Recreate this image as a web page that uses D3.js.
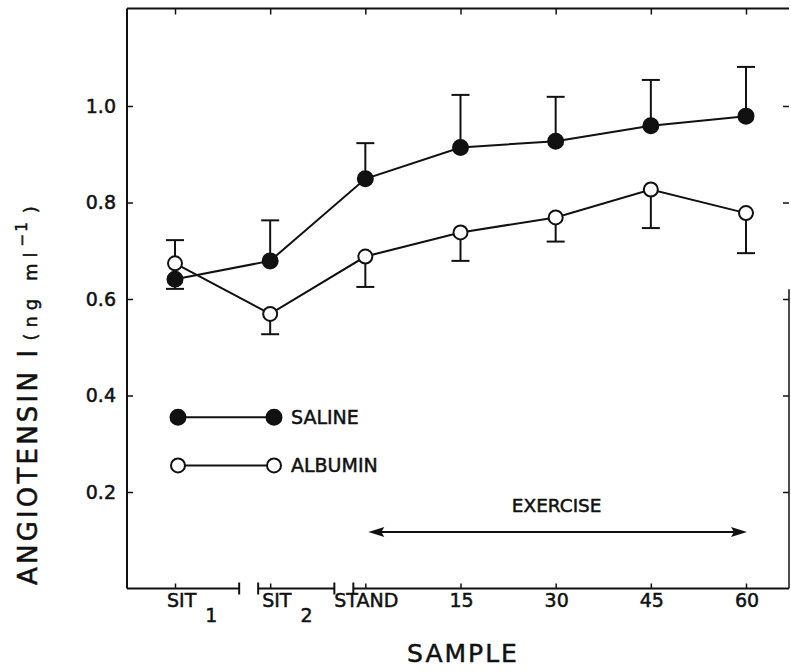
<!DOCTYPE html>
<html>
<head>
<meta charset="utf-8">
<script src="https://cdn.jsdelivr.net/npm/d3@7"></script>
<style>
  html, body { margin: 0; padding: 0; background: #fff; }
  svg { display: block; }
  text { font-family: "DejaVu Sans", sans-serif; fill: #111; stroke: #111; stroke-width: 0.5px; }
</style>
</head>
<body>
<svg id="chart" width="791" height="672"></svg>
<script>
// ---- data ----
const categories = ["SIT1", "SIT2", "STAND", "15", "30", "45", "60"];
const tickMain   = ["SIT", "SIT", "STAND", "15", "30", "45", "60"];
const tickSub    = ["1", "2", "", "", "", "", ""];
const yTicks     = [0.2, 0.4, 0.6, 0.8, 1.0];

const saline       = [0.641, 0.679, 0.849, 0.914, 0.927, 0.959, 0.979];
const salineErrEnd = [0.621, 0.763, 0.923, 1.023, 1.019, 1.054, 1.081];
const albumin       = [0.674, 0.569, 0.688, 0.738, 0.769, 0.827, 0.778];
const albuminErrEnd = [0.722, 0.527, 0.625, 0.679, 0.719, 0.747, 0.695];

const seriesNames = ["SALINE", "ALBUMIN"];
const legendLevels = [0.355, 0.255];

// ---- layout ----
const svg = d3.select("#chart");
const ink = "#111";
const pL = 127, pR = 789, pT = 9.5, pB = 588.5;

const x = d3.scalePoint().domain(categories).range([175, 746]);
const y = d3.scaleLinear().domain([0, 1.2]).range([pB, pT]);

// frame: left, top
svg.append("line").attr("x1", pL).attr("x2", pL).attr("y1", pT - 1).attr("y2", pB)
  .attr("stroke", ink).attr("stroke-width", 2);
svg.append("line").attr("x1", pL).attr("x2", pR).attr("y1", pT - 1).attr("y2", pT - 1)
  .attr("stroke", ink).attr("stroke-width", 2);
// right border (partial as in the original print)
svg.append("line").attr("x1", pR).attr("x2", pR).attr("y1", y(0.62)).attr("y2", pB)
  .attr("stroke", ink).attr("stroke-width", 1.5);

// left axis ticks + labels
const yAxis = d3.axisLeft(y).tickValues(yTicks).tickFormat(d3.format(".1f"))
  .tickSize(-6).tickPadding(11);
const gy = svg.append("g").attr("transform", `translate(${pL},0)`).call(yAxis);
gy.select(".domain").remove();
gy.selectAll("line").attr("stroke", ink).attr("stroke-width", 1.5);
gy.selectAll("text").attr("font-size", 19).style("font-family", "DejaVu Sans")
  .attr("fill", ink).attr("stroke", ink).attr("stroke-width", 0.5);

// right ticks
const yAxisR = d3.axisRight(y).tickValues(yTicks).tickFormat("").tickSize(-6);
const gyr = svg.append("g").attr("transform", `translate(${pR},0)`).call(yAxisR);
gyr.select(".domain").remove();
gyr.selectAll("line").attr("stroke", ink).attr("stroke-width", 1.5);

// top ticks
const xAxisT = d3.axisTop(x).tickFormat("").tickSize(-6);
const gxt = svg.append("g").attr("transform", `translate(0,${pT - 1})`).call(xAxisT);
gxt.select(".domain").remove();
gxt.selectAll("line").attr("stroke", ink).attr("stroke-width", 1.5);

// bottom axis with breaks
const xAxisB = d3.axisBottom(x).tickFormat("").tickSize(-5);
const gxb = svg.append("g").attr("transform", `translate(0,${pB})`).call(xAxisB);
gxb.select(".domain").remove();
gxb.selectAll("line").attr("stroke", ink).attr("stroke-width", 1.5);

const brk = [
  [pL, x("SIT2") - 31],
  [x("SIT2") - 12, x("STAND") - 31],
  [x("STAND") - 12, pR]
];
brk.forEach((s, i) => {
  svg.append("line").attr("x1", s[0]).attr("x2", s[1]).attr("y1", pB).attr("y2", pB)
    .attr("stroke", ink).attr("stroke-width", 2);
  if (i > 0) svg.append("line").attr("x1", s[0]).attr("x2", s[0]).attr("y1", pB - 6).attr("y2", pB + 6)
    .attr("stroke", ink).attr("stroke-width", 2);
  if (i < brk.length - 1) svg.append("line").attr("x1", s[1]).attr("x2", s[1]).attr("y1", pB - 6).attr("y2", pB + 6)
    .attr("stroke", ink).attr("stroke-width", 2);
});

// x tick labels
categories.forEach((c, i) => {
  const t = svg.append("text").attr("y", 607).attr("font-size", 19);
  if (tickSub[i]) {
    t.attr("x", x(c) - 8).attr("text-anchor", "start").text(tickMain[i]);
    t.append("tspan").attr("dx", 9).attr("dy", 15).text(tickSub[i]);
  } else {
    t.attr("x", x(c) + 1).attr("text-anchor", "middle").text(tickMain[i]);
  }
});

// axis titles
svg.append("text").attr("x", 463).attr("y", 662).attr("text-anchor", "middle")
  .attr("font-size", 25).attr("letter-spacing", 2).text("SAMPLE");

const yl = svg.append("text").attr("transform", "translate(37,585) rotate(-90)")
  .attr("text-anchor", "start").attr("font-size", 26).attr("letter-spacing", 3.2).text("ANGIOTENSIN I");
yl.append("tspan").attr("dx", 6).attr("font-size", 18).attr("letter-spacing", 6).text("(ng ml");
yl.append("tspan").attr("dy", -10).attr("font-size", 15).attr("letter-spacing", 2).text("\u2212" + "1");
yl.append("tspan").attr("dy", 10).attr("dx", 7).attr("font-size", 18).text(")");

// exercise arrow
const ay = 532;
const ax0 = x("STAND") + 3, ax1 = x("60") + 1;
svg.append("line").attr("x1", ax0 + 10).attr("x2", ax1 - 10).attr("y1", ay).attr("y2", ay)
  .attr("stroke", ink).attr("stroke-width", 2);
svg.append("path").attr("d", `M${ax0},${ay} L${ax0 + 16},${ay - 5} L${ax0 + 13},${ay} L${ax0 + 16},${ay + 5} Z`).attr("fill", ink);
svg.append("path").attr("d", `M${ax1},${ay} L${ax1 - 16},${ay - 5} L${ax1 - 13},${ay} L${ax1 - 16},${ay + 5} Z`).attr("fill", ink);
svg.append("text").attr("x", x("30") + 1).attr("y", 512).attr("text-anchor", "middle")
  .attr("font-size", 18.5).text("EXERCISE");

// series
const series = [
  { name: seriesNames[0], vals: saline, err: salineErrEnd, fill: ink },
  { name: seriesNames[1], vals: albumin, err: albuminErrEnd, fill: "#fff" }
];
const line = d3.line().x((d, i) => x(categories[i])).y(d => y(d));

series.forEach(s => {
  s.vals.forEach((v, i) => {
    const cx = x(categories[i]);
    svg.append("line").attr("x1", cx).attr("x2", cx).attr("y1", y(v)).attr("y2", y(s.err[i]))
      .attr("stroke", ink).attr("stroke-width", 2);
    svg.append("line").attr("x1", cx - 9).attr("x2", cx + 9).attr("y1", y(s.err[i])).attr("y2", y(s.err[i]))
      .attr("stroke", ink).attr("stroke-width", 2);
  });
});
series.forEach(s => {
  svg.append("path").datum(s.vals).attr("d", line).attr("fill", "none")
    .attr("stroke", ink).attr("stroke-width", 2);
});
series.slice().reverse().forEach(s => {
  svg.selectAll(null).data(s.vals).enter().append("circle")
    .attr("cx", (d, i) => x(categories[i])).attr("cy", d => y(d))
    .attr("r", s.fill === ink ? 7.5 : 7)
    .attr("fill", s.fill).attr("stroke", ink).attr("stroke-width", 2);
});

// legend
series.forEach((s, k) => {
  const ly = y(legendLevels[k]);
  const lx0 = 178, lx1 = 274;
  svg.append("line").attr("x1", lx0).attr("x2", lx1).attr("y1", ly).attr("y2", ly)
    .attr("stroke", ink).attr("stroke-width", 2);
  [lx0, lx1].forEach(px => svg.append("circle").attr("cx", px).attr("cy", ly)
    .attr("r", s.fill === ink ? 7.5 : 7).attr("fill", s.fill).attr("stroke", ink).attr("stroke-width", 2));
  svg.append("text").attr("x", 291).attr("y", ly + 7).attr("font-size", 19).text(s.name);
});
</script>
</body>
</html>
